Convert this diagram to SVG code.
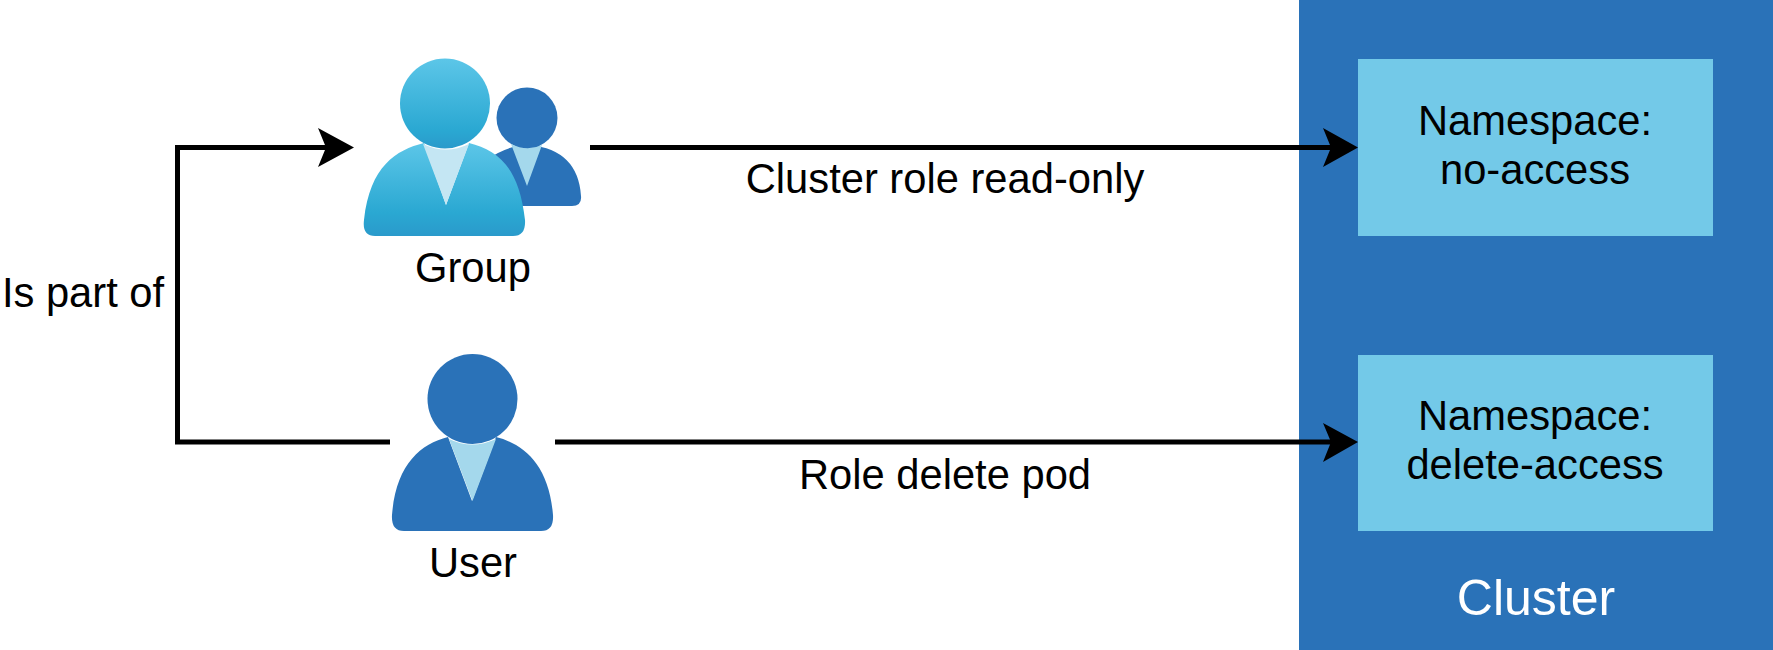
<svg xmlns="http://www.w3.org/2000/svg" width="1773" height="650" viewBox="0 0 1773 650">
<style>
text{font-family:"Liberation Sans",Arial,sans-serif;font-size:41.7px;fill:#000;text-anchor:middle}
.ln{fill:none;stroke:#000;stroke-width:5}
.ah{fill:#000}
.dk{fill:#2a72b8}
.lt{fill:#73c9e8}
.tie{fill:#c4e6f3}
.tie2{fill:#a4d8ec}
</style>
<defs>
<linearGradient id="g" x1="0" y1="0" x2="0" y2="1"><stop offset="0" stop-color="#5cc6e8"/><stop offset="0.8" stop-color="#2aa8d2"/><stop offset="1" stop-color="#2a9acb"/></linearGradient>
<linearGradient id="gb" gradientUnits="userSpaceOnUse" x1="0" y1="143" x2="0" y2="236"><stop offset="0" stop-color="#5cc6e8"/><stop offset="0.75" stop-color="#2aa8d2"/><stop offset="1" stop-color="#2a9acb"/></linearGradient>
</defs>
<rect id="bg" width="1773" height="650" fill="#fff"/>
<g id="cluster">
<rect class="dk" x="1299" y="0" width="474" height="650"/>
<text x="1536" y="615" style="font-size:50px;fill:#fff">Cluster</text>
</g>
<g id="ns-no-access">
<rect class="lt" x="1358" y="59" width="355" height="177"/>
<text x="1535" y="135">Namespace:</text>
<text x="1535" y="184">no-access</text>
</g>
<g id="ns-delete-access">
<rect class="lt" x="1358" y="355" width="355" height="176"/>
<text x="1535" y="430">Namespace:</text>
<text x="1535" y="479">delete-access</text>
</g>
<g id="group">
<path class="dk" d="M486 206V160Q510 144 530 145Q578 150 581 196Q582 206 572 206Z"/>
<circle class="dk" cx="527" cy="118" r="30.5"/>
<path class="tie2" d="M511 144Q527 152 542 145L527 186Z"/>
<path fill="url(#gb)" d="M375 236Q362 236 364 220C370 166 396 150 424 143L446 205L469 143C497 150 519 166 525 220Q526 236 513 236Z"/>
<circle cx="445" cy="103.5" r="45" fill="url(#g)"/>
<path class="tie" d="M423 144Q446 155 469 144L446 205Z"/>
<text x="473" y="282">Group</text>
</g>
<g id="user">
<path class="dk" d="M404 531Q391 531 392 515C396 465 420 444 448 437L472 501L496 437C524 444 549 465 553 515Q554 531 541 531Z"/>
<circle class="dk" cx="472.500" cy="399" r="45"/>
<path class="tie2" d="M449 439Q472 450 496 439L472.500 501Z"/>
<text x="473" y="577">User</text>
</g>
<g id="connectors">
<path class="ln" d="M390 442H177.500V147.500H335"/>
<path class="ah" d="M354 147.500L318 167L326 147.500L318 128Z"/>
<path class="ln" d="M590 147.500H1340"/>
<path class="ah" d="M1358 147.500L1323 167L1331 147.500L1323 128Z"/>
<path class="ln" d="M555 442H1340"/>
<path class="ah" d="M1358 442L1323 462L1331 442L1323 423Z"/>
</g>
<g id="labels">
<text x="945" y="193">Cluster role read-only</text>
<text x="945" y="489">Role delete pod</text>
<text x="83" y="307">Is part of</text>
</g>
</svg>
